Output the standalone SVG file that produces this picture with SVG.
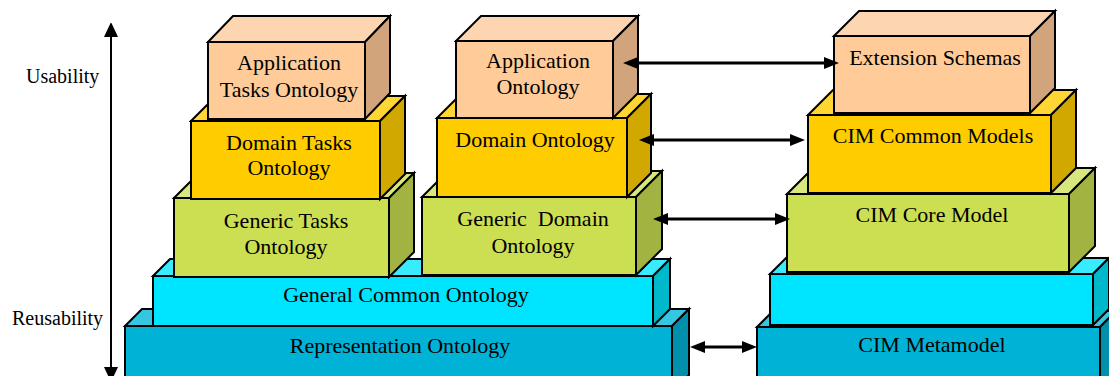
<svg xmlns="http://www.w3.org/2000/svg" width="1109" height="376" viewBox="0 0 1109 376">
<style>
.b{stroke:#000;stroke-width:2;stroke-linejoin:miter}
.pf{fill:#FFCC99}.pt{fill:#FDD6B1}.ps{fill:#D2A47B}
.yf{fill:#FFCC00}.yt{fill:#FFD633}.ys{fill:#D1A800}
.gf{fill:#CCDE52}.gt{fill:#D8E87C}.gs{fill:#A3B341}
.cf{fill:#00E5FF}.ct{fill:#38EBFF}.cs{fill:#00B8CC}
.rf{fill:#00B3D6}.rt{fill:#35C6E2}.rs{fill:#0090AB}
text{font-family:"Liberation Serif","Times New Roman",serif;fill:#000}
.t{font-size:22px;text-anchor:middle}
.s{font-size:20px}
.ar{stroke:#000;stroke-width:3;fill:none}
</style>
<defs>
<marker id="ah" viewBox="0 0 15 12" refX="5" refY="6" markerWidth="15" markerHeight="12" markerUnits="userSpaceOnUse" orient="auto-start-reverse">
<path d="M0,0 L15,6 L0,12 z" fill="#000"/>
</marker>
<marker id="ax" viewBox="0 0 14 15" refX="2" refY="7" markerWidth="14" markerHeight="15" markerUnits="userSpaceOnUse" orient="auto-start-reverse">
<path d="M0,0 L15,7 L0,14 z" fill="#000"/>
</marker>
</defs>

<g id="axis">
<line x1="111" y1="35" x2="111" y2="369" stroke="#000" stroke-width="2" marker-start="url(#ax)" marker-end="url(#ax)"/>
<text class="s" x="26" y="83">Usability</text>
<text class="s" x="12" y="325">Reusability</text>
</g>

<!-- left stack -->
<g id="representation-ontology">
<polygon class="b rt" points="125,326 142,309 689,309 672,326"/>
<polygon class="b rs" points="672,326 689,309 689,375 672,392"/>
<rect class="b rf" x="125" y="326" width="547" height="66"/>
<text class="t" x="400" y="353">Representation Ontology</text>
</g>
<g id="general-common-ontology">
<polygon class="b ct" points="153,276 170,259 670,259 653,276"/>
<polygon class="b cs" points="653,276 670,259 670,309 653,326"/>
<rect class="b cf" x="153" y="276" width="500" height="50"/>
<text class="t" x="406" y="302">General Common Ontology</text>
</g>
<g id="generic-tasks-ontology">
<polygon class="b gt" points="174,198 199,173 414,173 389,198"/>
<polygon class="b gs" points="389,198 414,173 414,252 389,277"/>
<rect class="b gf" x="174" y="198" width="215" height="79"/>
<text class="t" x="286" y="228">Generic Tasks</text>
<text class="t" x="286" y="254">Ontology</text>
</g>
<g id="domain-tasks-ontology">
<polygon class="b yt" points="191,121 216,96 405,96 380,121"/>
<polygon class="b ys" points="380,121 405,96 405,174 380,199"/>
<rect class="b yf" x="191" y="121" width="189" height="78"/>
<text class="t" x="289" y="150">Domain Tasks</text>
<text class="t" x="289" y="175">Ontology</text>
</g>
<g id="application-tasks-ontology">
<polygon class="b pt" points="208,42 233,16 390,16 365,42"/>
<polygon class="b ps" points="365,42 390,16 390,93 365,119"/>
<rect class="b pf" x="208" y="42" width="157" height="77"/>
<text class="t" x="289" y="70">Application</text>
<text class="t" x="289" y="97">Tasks Ontology</text>
</g>

<!-- middle stack -->
<g id="generic-domain-ontology">
<polygon class="b gt" points="422,197 448,171 662,171 636,197"/>
<polygon class="b gs" points="636,197 662,171 662,249 636,275"/>
<rect class="b gf" x="422" y="197" width="214" height="78"/>
<text class="t" x="533" y="226" style="white-space:pre">Generic  Domain</text>
<text class="t" x="533" y="253">Ontology</text>
</g>
<g id="domain-ontology">
<polygon class="b yt" points="437,118 461,94 651,94 627,118"/>
<polygon class="b ys" points="627,118 651,94 651,173 627,197"/>
<rect class="b yf" x="437" y="118" width="190" height="79"/>
<text class="t" x="535" y="147">Domain Ontology</text>
</g>
<g id="application-ontology">
<polygon class="b pt" points="456,41 481,16 638,16 613,41"/>
<polygon class="b ps" points="613,41 638,16 638,93 613,118"/>
<rect class="b pf" x="456" y="41" width="157" height="77"/>
<text class="t" x="538" y="68">Application</text>
<text class="t" x="538" y="94">Ontology</text>
</g>

<!-- right stack -->
<g id="cim-metamodel">
<polygon class="b rt" points="757,327 773,311 1116,311 1100,327"/>
<polygon class="b rs" points="1100,327 1116,311 1116,376 1100,392"/>
<rect class="b rf" x="757" y="327" width="343" height="65"/>
<text class="t" x="932" y="352">CIM Metamodel</text>
</g>
<g id="cim-blank-layer">
<polygon class="b ct" points="770,274 786,258 1109,258 1093,274"/>
<polygon class="b cs" points="1093,274 1109,258 1109,309 1093,325"/>
<rect class="b cf" x="770" y="274" width="323" height="51"/>
</g>
<g id="cim-core-model">
<polygon class="b gt" points="787,194 813,168 1095,168 1069,194"/>
<polygon class="b gs" points="1069,194 1095,168 1095,246 1069,272"/>
<rect class="b gf" x="787" y="194" width="282" height="78"/>
<text class="t" x="932" y="222">CIM Core Model</text>
</g>
<g id="cim-common-models">
<polygon class="b yt" points="808,115 833,90 1076,90 1051,115"/>
<polygon class="b ys" points="1051,115 1076,90 1076,168 1051,193"/>
<rect class="b yf" x="808" y="115" width="243" height="78"/>
<text class="t" x="933" y="143">CIM Common Models</text>
</g>
<g id="extension-schemas">
<polygon class="b pt" points="834,36 859,11 1055,11 1030,36"/>
<polygon class="b ps" points="1030,36 1055,11 1055,88 1030,113"/>
<rect class="b pf" x="834" y="36" width="196" height="77"/>
<text class="t" x="935" y="65">Extension Schemas</text>
</g>

<g id="connectors">
<line class="ar" x1="633" y1="63" x2="829" y2="63" marker-start="url(#ah)" marker-end="url(#ah)"/>
<line class="ar" x1="649" y1="140" x2="795" y2="140" marker-start="url(#ah)" marker-end="url(#ah)"/>
<line class="ar" x1="663" y1="219" x2="780" y2="219" marker-start="url(#ah)" marker-end="url(#ah)"/>
<line class="ar" x1="700" y1="347" x2="747" y2="347" marker-start="url(#ah)" marker-end="url(#ah)"/>
</g>
</svg>
